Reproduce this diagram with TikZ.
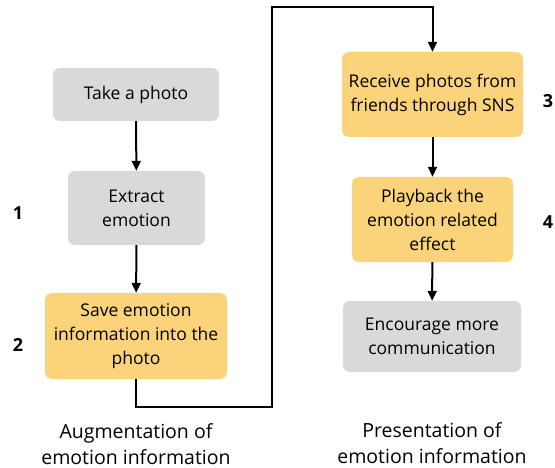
\documentclass[tikz,border=0pt]{standalone}
\usepackage{fontspec}
\setmainfont{Open Sans}
\usetikzlibrary{arrows.meta}
\definecolor{boxgray}{HTML}{D9D9D9}
\definecolor{boxorange}{HTML}{FBD37A}
\tikzset{
  stepbox/.style={rounded corners=7pt, inner sep=0pt, align=center,
    font=\fontsize{17.5}{24}\selectfont, text=black},
  graybox/.style={stepbox, fill=boxgray},
  orangebox/.style={stepbox, fill=boxorange},
  numlabel/.style={font=\fontsize{18}{20}\selectfont\bfseries},
  caption/.style={align=center, font=\fontsize{19.5}{26}\selectfont},
  conn/.style={line width=2pt, -{Triangle[length=10pt,width=9pt]}},
}
\begin{document}
\begin{tikzpicture}[x=1pt,y=-1pt]
\useasboundingbox (0,0) rectangle (555,468);
\node[graybox, minimum width=166pt, minimum height=53pt] (b1) at (136,94.5) {Take a photo};
\node[graybox, minimum width=137pt, minimum height=74pt] (b2) at (136.5,208) {Extract\\emotion};
\node[orangebox, minimum width=182pt, minimum height=86pt] (b3) at (136,336) {Save emotion\\information into the\\photo};
\node[orangebox, minimum width=181pt, minimum height=85pt] (b4) at (432.5,94.5) {Receive photos from\\friends through SNS};
\node[orangebox, minimum width=161pt, minimum height=85pt] (b5) at (432.5,219.5) {Playback the\\emotion related\\effect};
\node[graybox, minimum width=178pt, minimum height=71pt] (b6) at (432,336.5) {Encourage more\\communication};
\node[numlabel] (n1) at (18,213) {1};
\node[numlabel] (n2) at (18,345) {2};
\node[numlabel] (n3) at (548,101) {3};
\node[numlabel] (n4) at (548,222) {4};
\node[caption] (c1) at (136,444) {Augmentation of\\emotion information};
\node[caption] (c2) at (432,443) {Presentation of\\emotion information};
\coordinate (p1) at (136,407);
\coordinate (p2) at (271.5,407);
\coordinate (p3) at (271.5,7.5);
\coordinate (p4) at (432.5,7.5);
\draw[conn] (b1) -- (b2);
\draw[conn] (b2) -- (b3);
\draw[conn] (b4) -- (b5);
\draw[conn] (b5) -- (b6);
\draw[conn] (b3.south) -- (p1) -- (p2) -- (p3) -- (p4) -- (b4.north);
\end{tikzpicture}
\end{document}
